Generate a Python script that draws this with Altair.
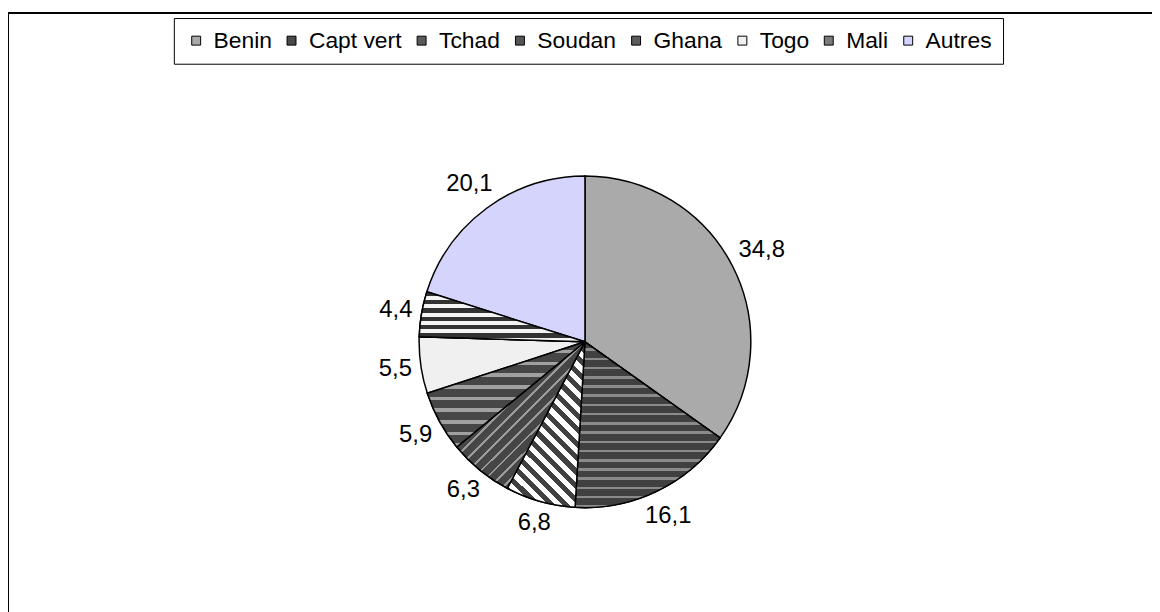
import altair as alt
import pandas as pd

# ---- data ----
pays = ["Benin", "Capt vert", "Tchad", "Soudan", "Ghana", "Togo", "Mali", "Autres"]
valeurs = [34.8, 16.1, 6.8, 6.3, 5.9, 5.5, 4.4, 20.1]
couleurs = ["#aaaaaa", "#4a4a4a", "#5a5a5a", "#555555", "#5c5c5c", "#f0f0f0", "#7a7a7a", "#d4d4fc"]
total = 99.9

df = pd.DataFrame({"pays": pays, "valeur": valeurs, "ordre": list(range(len(pays)))})

# ---- layout / style ----
W, H = 1152, 604
CX, CY = 581, 334
R = 167
FONT = "Liberation Sans"
LABEL_SIZE = 24


def stripes(c1, c2, n, frac, x1, y1, x2, y2):
    stops = []
    for i in range(n):
        a = i / n
        b = (i + frac) / n
        c = (i + 1) / n
        stops += [
            {"offset": a, "color": c1},
            {"offset": b, "color": c1},
            {"offset": b, "color": c2},
            {"offset": c, "color": c2},
        ]
    return {"gradient": "linear", "stops": stops, "x1": x1, "y1": y1, "x2": x2, "y2": y2}


patterns = {
    "Capt vert": stripes("#404040", "#8a8a8a", 18, 0.72, 0, 0, 0, 1),
    "Tchad": stripes("#404040", "#ffffff", 30, 0.5, 0, 1, 1, -1.14),
    "Soudan": stripes("#464646", "#9a9a9a", 23, 0.78, 0, 0, 1, 1.147),
    "Ghana": stripes("#464646", "#a0a0a0", 9, 0.7, 0, 0, 0, 1),
    "Mali": stripes("#333333", "#f4f4f4", 6, 0.5, 0, 0, 0, 1),
}

theta_scale = alt.Scale(domain=[0, total])

base = alt.Chart(df).transform_stack(
    stack="valeur", groupby=[], as_=["v0", "v1"], sort=[alt.SortField("ordre")]
).transform_calculate(
    mid="(datum.v0 + datum.v1) / 2",
    label="replace(format(datum.valeur, '.1f'), '.', ',')",
).transform_calculate(
    ang=f"datum.mid / {total} * 2 * PI",
    # outside-end placement: keep the label box just clear of the rim
    rlab=f"{R} + 8 + {LABEL_SIZE} * (0.556 * (length(datum.label) - 1) + 0.278) / 2 * abs(sin(datum.ang))"
    f" + {LABEL_SIZE} * 0.42 * abs(cos(datum.ang))",
)

pie = base.mark_arc(radius=R, stroke="black", strokeWidth=1.5).encode(
    theta=alt.Theta("v0:Q", scale=theta_scale),
    theta2="v1:Q",
    color=alt.Color(
        "pays:N",
        scale=alt.Scale(domain=pays, range=couleurs),
        sort=pays,
        legend=alt.Legend(
            orient="none",
            legendX=167,
            legendY=8,
            direction="horizontal",
            columns=8,
            title=None,
            symbolType="square",
            symbolSize=81,
            symbolStrokeColor="black",
            symbolStrokeWidth=1,
            labelFont=FONT,
            labelFontSize=23,
            labelColor="black",
            labelOffset=6,
            columnPadding=8,
            padding=11,
            strokeColor="black",
        ),
    ),
    x=alt.value(CX),
    y=alt.value(CY),
)

layers = [pie]
for name, grad in patterns.items():
    layers.append(
        base.transform_filter(alt.datum.pays == name)
        .mark_arc(radius=R, stroke="black", strokeWidth=1.5, fill=grad)
        .encode(
            theta=alt.Theta("v0:Q", scale=theta_scale),
            theta2="v1:Q",
            x=alt.value(CX),
            y=alt.value(CY),
        )
    )

labels = base.mark_text(font=FONT, fontSize=LABEL_SIZE, color="black").encode(
    theta=alt.Theta("mid:Q", scale=theta_scale),
    radius=alt.Radius("rlab:Q", scale=None),
    text="label:N",
    x=alt.value(CX),
    y=alt.value(CY),
)
layers.append(labels)

frame_df = pd.DataFrame({"k": [0]})
left_line = alt.Chart(frame_df).mark_rule(color="black", strokeWidth=2).encode(
    x=alt.value(0), y=alt.value(3), y2=alt.value(H + 20)
)
top_line = alt.Chart(frame_df).mark_rule(color="black", strokeWidth=2).encode(
    x=alt.value(0), x2=alt.value(W + 20), y=alt.value(3)
)
layers += [left_line, top_line]

chart = alt.layer(*layers).properties(
    width=W,
    height=H,
    padding=0,
    autosize=alt.AutoSizeParams(type="none"),
).configure_view(stroke=None)

chart.save("out.html", embed_options={"renderer": "svg", "actions": False})
